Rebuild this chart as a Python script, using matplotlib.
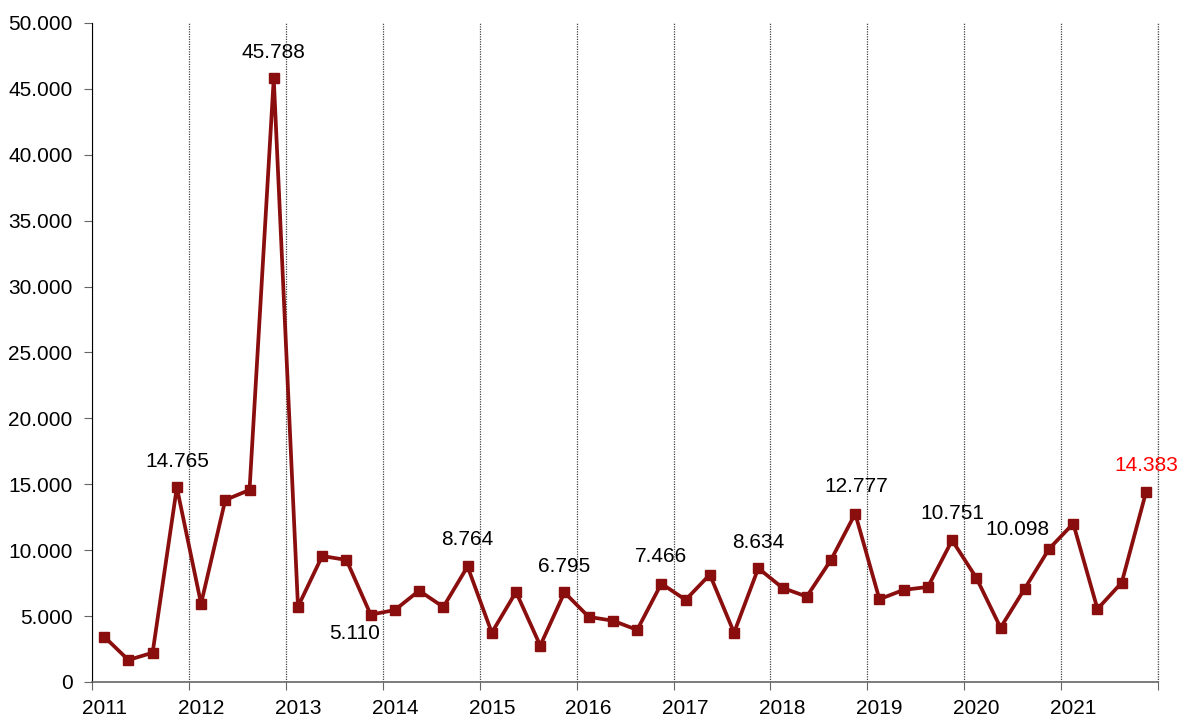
import matplotlib.pyplot as plt
from matplotlib.ticker import FuncFormatter, MultipleLocator, FixedLocator

plt.rcParams['font.family'] = ['Liberation Sans', 'DejaVu Sans']

years = [str(y) for y in range(2011, 2022)]
values = [3440, 1670, 2220, 14765,
          5940, 13810, 14570, 45788,
          5710, 9560, 9260, 5110,
          5460, 6930, 5690, 8764,
          3740, 6830, 2760, 6795,
          4940, 4650, 3950, 7466,
          6230, 8150, 3740, 8634,
          7140, 6480, 9260, 12777,
          6280, 6990, 7210, 10751,
          7900, 4120, 7090, 10098,
          12020, 5540, 7540, 14383]
# labelled points: index -> (dx, dy) offset in pixels
labels = {3: (0, 26), 7: (0, 26), 11: (-16, -19), 15: (0, 27), 19: (0, 26),
          23: (0, 27), 27: (0, 26), 31: (1, 27), 35: (0, 27), 39: (-32, 19),
          43: (0, 27)}

red = '#8b0e0e'
fs = 15
fig = plt.figure(figsize=(11.8, 7.16), dpi=100)
ax = fig.add_axes([0.078, 0.0475, 0.9034, 0.9204])

xs = [i + 0.5 for i in range(len(values))]
ax.plot(xs, values, color=red, lw=2.7, marker='s', ms=6.5, zorder=3)

for i, (dx, dy) in labels.items():
    txt = f"{values[i]:,}".replace(',', '.')
    c = 'red' if i == len(values) - 1 else 'black'
    ax.annotate(txt, (xs[i], values[i]), xytext=(dx, dy), textcoords='offset pixels',
                ha='center', va='center', fontsize=fs, color=c)

ax.set_xlim(0, 44)
ax.set_ylim(0, 50000)
ax.yaxis.set_major_locator(MultipleLocator(5000))
ax.yaxis.set_major_formatter(FuncFormatter(lambda v, p: f"{int(v):,}".replace(',', '.')))
ax.xaxis.set_major_locator(MultipleLocator(4))
ax.xaxis.set_major_formatter(FuncFormatter(lambda v, p: ''))
ax.xaxis.set_minor_locator(FixedLocator([4 * k + 0.5 for k in range(len(years))]))
ax.xaxis.set_minor_formatter(FuncFormatter(lambda v, p: years[int(v // 4)]))
ax.tick_params(axis='x', which='minor', length=0, labelsize=fs, pad=12)
ax.tick_params(axis='x', which='major', length=6, color='#666666')
ax.tick_params(axis='y', length=6, color='#666666', labelsize=fs, pad=8)

ax.xaxis.grid(True, which='major', linestyle=(0, (1, 1)), color='#444444', lw=0.9)
ax.axvline(44, linestyle=(0, (1, 1)), color='#444444', lw=0.9, clip_on=False)
for s in ['top', 'right']:
    ax.spines[s].set_visible(False)
ax.spines['left'].set_color('black')
ax.spines['bottom'].set_color('#666666')
ax.spines['bottom'].set_linewidth(1.2)

fig.savefig('out.png', dpi=100)
